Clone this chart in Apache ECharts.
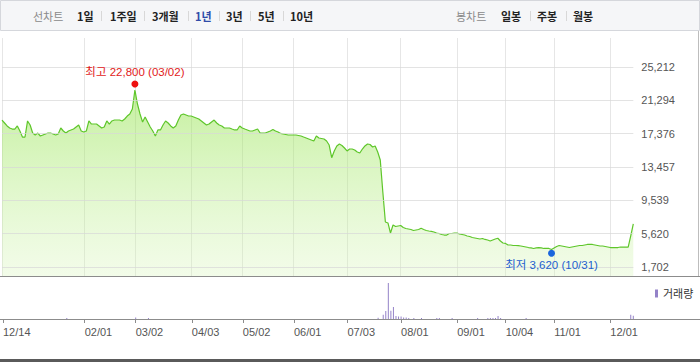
<!DOCTYPE html>
<html><head><meta charset="utf-8">
<script src="https://cdn.jsdelivr.net/npm/echarts@6/dist/echarts.min.js"></script>
<style>html,body{margin:0;padding:0;background:#fff}#c{width:700px;height:362px}</style>
</head><body><div id="c"></div>
<script>
// Trading days (YY/MM/DD)
const dates = [
'22/12/14','22/12/15','22/12/16','22/12/19','22/12/20','22/12/21','22/12/22','22/12/23','22/12/26','22/12/27','22/12/28','22/12/29',
'23/01/02','23/01/03','23/01/04','23/01/05','23/01/06','23/01/09','23/01/10','23/01/11','23/01/12','23/01/13','23/01/16','23/01/17','23/01/18','23/01/19','23/01/20','23/01/25','23/01/26','23/01/27','23/01/30','23/01/31',
'23/02/01','23/02/02','23/02/03','23/02/06','23/02/07','23/02/08','23/02/09','23/02/10','23/02/13','23/02/14','23/02/15','23/02/16','23/02/17','23/02/20','23/02/21','23/02/22','23/02/23','23/02/24','23/02/27','23/02/28',
'23/03/02','23/03/03','23/03/06','23/03/07','23/03/08','23/03/09','23/03/10','23/03/13','23/03/14','23/03/15','23/03/16','23/03/17','23/03/20','23/03/21','23/03/22','23/03/23','23/03/24','23/03/27','23/03/28','23/03/29','23/03/30','23/03/31',
'23/04/03','23/04/04','23/04/05','23/04/06','23/04/07','23/04/10','23/04/11','23/04/12','23/04/13','23/04/14','23/04/17','23/04/18','23/04/19','23/04/20','23/04/21','23/04/24','23/04/25','23/04/26','23/04/27','23/04/28',
'23/05/02','23/05/03','23/05/04','23/05/08','23/05/09','23/05/10','23/05/11','23/05/12','23/05/15','23/05/16','23/05/17','23/05/18','23/05/19','23/05/22','23/05/23','23/05/24','23/05/25','23/05/26','23/05/30','23/05/31',
'23/06/01','23/06/02','23/06/05','23/06/07','23/06/08','23/06/09','23/06/12','23/06/13','23/06/14','23/06/15','23/06/16','23/06/19','23/06/20','23/06/21','23/06/22','23/06/23','23/06/26','23/06/27','23/06/28','23/06/29','23/06/30',
'23/07/03','23/07/04','23/07/05','23/07/06','23/07/07','23/07/10','23/07/11','23/07/12','23/07/13','23/07/14','23/07/17','23/07/18','23/07/19','23/07/20','23/07/21','23/07/24','23/07/25','23/07/26','23/07/27','23/07/28','23/07/31',
'23/08/01','23/08/02','23/08/03','23/08/04','23/08/07','23/08/08','23/08/09','23/08/10','23/08/11','23/08/14','23/08/16','23/08/17','23/08/18','23/08/21','23/08/22','23/08/23','23/08/24','23/08/25','23/08/28','23/08/29','23/08/30','23/08/31',
'23/09/01','23/09/04','23/09/05','23/09/06','23/09/07','23/09/08','23/09/11','23/09/12','23/09/13','23/09/14','23/09/15','23/09/18','23/09/19','23/09/20','23/09/21','23/09/22','23/09/25','23/09/26','23/09/27',
'23/10/04','23/10/05','23/10/06','23/10/10','23/10/11','23/10/12','23/10/13','23/10/16','23/10/17','23/10/18','23/10/19','23/10/20','23/10/23','23/10/24','23/10/25','23/10/26','23/10/27','23/10/30','23/10/31',
'23/11/01','23/11/02','23/11/03','23/11/06','23/11/07','23/11/08','23/11/09','23/11/10','23/11/13','23/11/14','23/11/15','23/11/16','23/11/17','23/11/20','23/11/21','23/11/22','23/11/23','23/11/24','23/11/27','23/11/28','23/11/29','23/11/30',
'23/12/01','23/12/04','23/12/05','23/12/06','23/12/07','23/12/08','23/12/11','23/12/12','23/12/13','23/12/14'
];
// Closing prices
const prices = [
18980,18630,18280,18040,17920,17920,18280,17690,16980,16980,
18870,18390,17450,17220,17450,17100,17220,17340,17450,17450,
17340,17220,17340,18040,17690,17450,17690,17810,17920,18160,
18390,17690,17570,17690,18870,18510,18510,18510,18280,18040,
18160,18870,18510,18870,18980,18980,18980,18870,19100,19450,
19690,20280,22510,20860,19690,18750,19340,18750,18160,17690,
17100,17810,17810,18390,18870,18630,18280,18040,18280,18980,
19570,19690,19570,19450,19450,19340,19220,19100,18870,18630,
18390,18510,18750,18980,18630,18390,18280,18040,18040,18040,
17920,17810,17810,18280,18040,17920,17810,17690,17690,17810,
17920,17450,17450,17450,17570,17690,17870,17690,17570,17400,
17340,17280,17220,17220,17220,17220,17160,17100,16980,16870,
16750,16630,16510,17100,16870,16810,16750,16510,16040,14550,
15340,15930,16160,15990,15690,15340,15570,15570,15460,15220,
15100,15570,15930,16160,16100,15810,15930,15220,14280,10520,
6990,6880,5700,6640,6460,6520,6580,6350,6230,6170,
6110,5990,6050,6110,6250,6110,5990,5930,5880,5820,
5700,5640,5520,5460,5460,5640,5640,5700,5700,5580,
5520,5460,5350,5290,5170,5110,5050,4990,5050,4940,
4880,4760,4880,4990,5080,4760,4520,4470,4290,4290,
4230,4230,4210,4170,4110,4050,3990,3940,3880,3940,
3990,3940,3880,3880,3880,3760,3940,4110,4230,4170,
4110,4050,3990,4050,4110,4170,4230,4230,4290,4350,
4370,4350,4290,4230,4170,4170,4110,4050,3990,3990,
3970,3990,4050,4050,4050,4050,5350,6760
];
// Trading volume (only visible bars)
const volDates = ['23/01/19','23/03/02','23/03/09','23/07/19','23/07/21','23/07/24','23/07/25','23/07/26','23/07/27','23/07/28','23/07/31','23/08/01','23/08/02','23/08/03','23/08/04','23/08/08','23/08/11','23/08/22','23/08/23','23/08/30','23/09/13','23/09/19','23/09/20','23/09/21','23/09/22','23/09/25','23/09/26','23/10/17','23/12/13','23/12/14'];
const volValues = [100,150,100,120,430,800,3600,830,1200,300,250,250,150,150,100,100,100,100,100,100,100,100,100,100,100,300,100,100,430,320];
const xTickDates = ['22/12/14','23/02/01','23/03/02','23/04/03','23/05/02','23/06/01','23/07/03','23/08/01','23/09/01','23/10/04','23/11/01','23/12/01'];
const yTicks = [1702,5620,9539,13457,17376,21294,25212];
const yTickLabels = ['1,702','5,620','9,539','13,457','17,376','21,294','25,212'];
const highDate = '23/03/02', highValue = 22800, highText = '최고 22,800 (03/02)';
const lowDate = '23/10/31', lowValue = 3620, lowText = '최저 3,620 (10/31)';
const periodTabs = ['1일','1주일','3개월','1년','3년','5년','10년'];
const candleTabs = ['일봉','주봉','월봉'];

const FONT = "'Liberation Sans','Noto Sans CJK KR',sans-serif";
const isTick = (i, v) => xTickDates.indexOf(v) >= 0;

const chart = echarts.init(document.getElementById('c'), null, {renderer: 'svg'});

// toolbar graphics
const tabX = [77,110,152,195,226,258,290];
const sepX = [101,144,188,219,250,283];
const ctabX = [501,537,573];
const csepX = [530,566];
const graphics = [
  {type:'rect', shape:{x:0.5,y:0.5,width:699,height:30}, style:{fill:'#f5f6f8', stroke:'#d5d7dc', lineWidth:1}, z:100},
  {type:'text', x:33, y:16, style:{text:'선차트', fill:'#8a8a8a', font:"11px 'Noto Sans CJK KR'", textVerticalAlign:'middle'}, z:101},
  {type:'text', x:456, y:16, style:{text:'봉차트', fill:'#8a8a8a', font:"11px 'Noto Sans CJK KR'", textVerticalAlign:'middle'}, z:101}
];
periodTabs.forEach((t, i) => graphics.push({type:'text', x:tabX[i], y:16, style:{text:t, fill: t === '1년' ? '#2f4ba8' : '#222', font:"bold 11px 'Noto Sans CJK KR'", textVerticalAlign:'middle'}, z:101}));
candleTabs.forEach((t, i) => graphics.push({type:'text', x:ctabX[i], y:16, style:{text:t, fill:'#222', font:"bold 11px 'Noto Sans CJK KR'", textVerticalAlign:'middle'}, z:101}));
sepX.concat(csepX).forEach(x => graphics.push({type:'line', shape:{x1:x+0.5,y1:11,x2:x+0.5,y2:21}, style:{stroke:'#d8d8d8', lineWidth:1}, z:101}));
graphics.push(
  {type:'line', shape:{x1:0,y1:276.5,x2:700,y2:276.5}, style:{stroke:'#8c8c8c', lineWidth:1}, z:100},
  {type:'line', shape:{x1:698.5,y1:31,x2:698.5,y2:276}, style:{stroke:'#bdbdbd', lineWidth:1}, z:100},
  {type:'line', shape:{x1:0,y1:319.5,x2:700,y2:319.5}, style:{stroke:'#8c8c8c', lineWidth:1}, z:100},
  {type:'rect', shape:{x:0,y:359,width:700,height:3}, style:{fill:'#5a5a5a'}, z:100}
);

chart.setOption({
  animation: false,
  textStyle: {fontFamily: FONT},
  graphic: graphics,
  legend: {
    data: ['거래량'], left: 650, top: 283, icon: 'rect', itemWidth: 3, itemHeight: 8,
    textStyle: {fontSize: 11, color: '#333', fontFamily: FONT}, selectedMode: false
  },
  grid: [
    {left: 2, right: 66.7, top: 38, bottom: 86},
    {left: 2, right: 66.7, top: 277, bottom: 43}
  ],
  xAxis: [
    {type:'category', data: dates, boundaryGap:false, gridIndex:0,
     axisLine:{show:false}, axisTick:{show:false}, axisLabel:{show:false},
     splitLine:{show:true, interval:isTick, lineStyle:{color:'#e6e6e6'}}},
    {type:'category', data: dates, boundaryGap:false, gridIndex:1,
     axisLine:{show:false},
     axisTick:{show:true, interval:isTick, length:4, lineStyle:{color:'#8c8c8c'}},
     axisLabel:{show:true, interval:isTick, align:'left', margin:7, fontSize:11, color:'#555', fontFamily:FONT,
       formatter: v => v.slice(3)},
     splitLine:{show:false}}
  ],
  yAxis: [
    {type:'value', gridIndex:0, position:'right', min:644, max:28621,
     axisLine:{show:false},
     axisTick:{show:false, customValues: yTicks},
     axisLabel:{customValues: yTicks, margin:8, fontSize:11, color:'#555', fontFamily:FONT,
       formatter: v => yTickLabels[yTicks.indexOf(v)] || ''},
     splitLine:{show:false}},
    {type:'value', gridIndex:1, min:0, max:4200, show:false, splitLine:{show:false}}
  ],
  series: [
    {type:'line', name:'종가', xAxisIndex:0, yAxisIndex:0, data: prices, symbol:'none', smooth:false, z:2,
     lineStyle:{color:'#5ec62a', width:1.2},
     areaStyle:{origin:'start', color:{type:'linear', x:0, y:0, x2:0, y2:1,
       colorStops:[{offset:0, color:'rgba(145,226,70,0.75)'},{offset:0.3, color:'rgba(165,232,105,0.66)'},{offset:1, color:'rgba(215,245,185,0.45)'}]}},
     markLine:{silent:true, symbol:['none','none'], label:{show:false}, animation:false,
       lineStyle:{color:'rgba(215,215,215,0.7)', type:'solid', width:1},
       data: yTicks.map(v => ({yAxis: v}))}},
    {type:'scatter', xAxisIndex:0, yAxisIndex:0, data:[[highDate, highValue]], symbol:'circle', symbolSize:7, z:10,
     symbolOffset:[0,-3.5], itemStyle:{color:'#ee1111', opacity:1},
     label:{show:true, position:'top', distance:3, formatter: highText, color:'#e21a1a', fontSize:11.5, fontFamily:FONT}},
    {type:'scatter', xAxisIndex:0, yAxisIndex:0, data:[[lowDate, lowValue]], symbol:'circle', symbolSize:7, z:10,
     symbolOffset:[0,2.5], itemStyle:{color:'#1a66dd', opacity:1},
     label:{show:true, position:'bottom', distance:3, formatter: lowText, color:'#1d5fcf', fontSize:11.5, fontFamily:FONT}},
    {type:'bar', name:'거래량', xAxisIndex:1, yAxisIndex:1, data: volDates.map((d, i) => [d, volValues[i]]),
     barWidth:1, itemStyle:{color:'#9482c8'}}
  ]
});
</script></body></html>
